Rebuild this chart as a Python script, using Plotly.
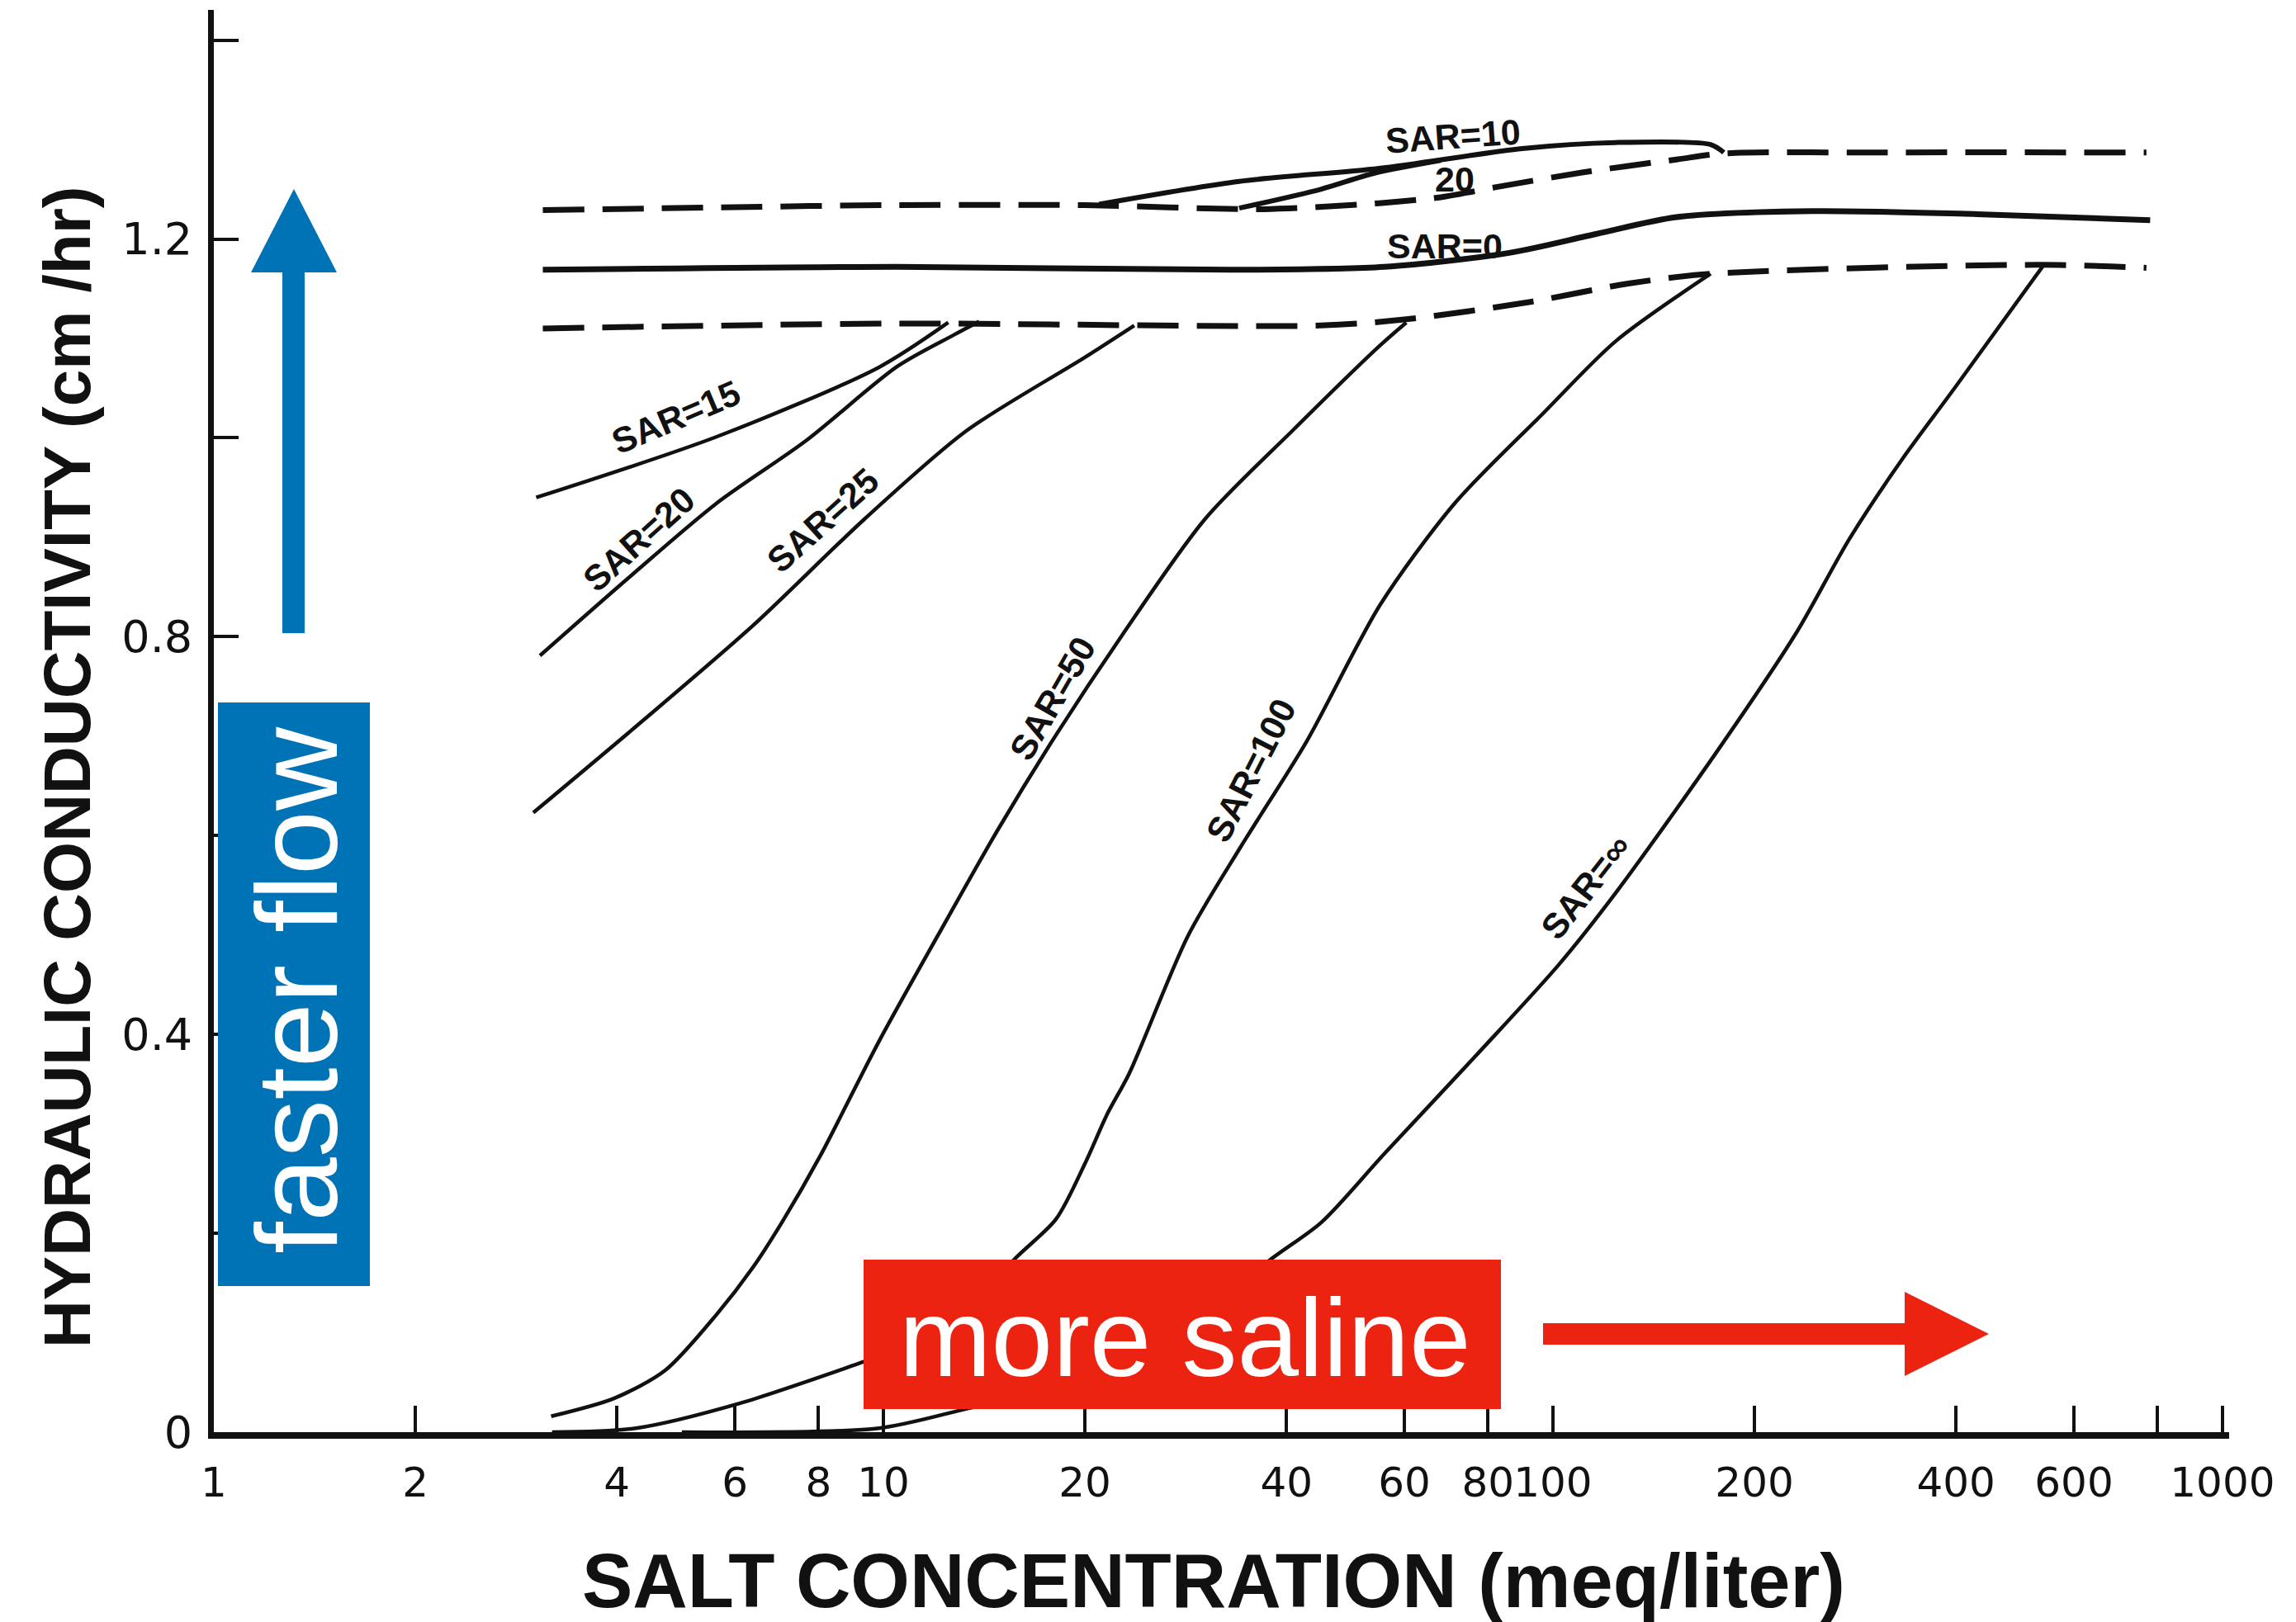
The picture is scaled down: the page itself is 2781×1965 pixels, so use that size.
import math
import plotly.graph_objects as go

# ---------------- data ----------------
X_TICKS = [1, 2, 4, 6, 8, 10, 20, 40, 60, 80, 100, 200, 400, 600, 800, 1000]
X_TICKTEXT = ["1", "2", "4", "6", "8", "10", "20", "40", "60", "80", "100", "200", "400", "600", "", "1000"]
Y_TICKS = [0, 0.2, 0.4, 0.6, 0.8, 1.0, 1.2, 1.4]
Y_TICKTEXT = ["0", "", "0.4", "", "0.8", "", "1.2", ""]

top_dash_x = [3.1, 6.0, 10.0, 20.0, 37.0, 55.0, 68.0, 82.0, 111.0, 153.0, 180.0, 300.0, 770.0]
top_dash_y = [1.229, 1.232, 1.234, 1.234, 1.230, 1.236, 1.242, 1.252, 1.267, 1.280, 1.286, 1.287, 1.287]

sar10_x = [21.0, 34.0, 55.0, 90.0, 124.0, 172.0, 180.0]
sar10_y = [1.235, 1.258, 1.271, 1.291, 1.297, 1.295, 1.287]

sar20_top_x = [34.0, 45.0, 54.0, 68.0]
sar20_top_y = [1.231, 1.250, 1.266, 1.279]

sar0_x = [3.1, 10.5, 33.0, 56.0, 86.0, 116.0, 153.0, 244.0, 430.0, 780.0]
sar0_y = [1.169, 1.172, 1.169, 1.172, 1.186, 1.205, 1.222, 1.228, 1.225, 1.219]

low_dash_x = [3.1, 10.5, 45.0, 60.0, 93.0, 129.0, 172.0, 530.0, 770.0]
low_dash_y = [1.110, 1.115, 1.113, 1.119, 1.137, 1.155, 1.165, 1.174, 1.171]

sar15_x = [3.03, 5.63, 9.85, 12.5]
sar15_y = [0.940, 1.001, 1.071, 1.116]

sar20_x = [3.07, 4.16, 5.63, 7.66, 10.5, 12.7, 13.9]
sar20_y = [0.781, 0.859, 0.934, 0.997, 1.072, 1.103, 1.117]

sar25_x = [3.0, 4.38, 6.38, 9.36, 13.3, 20.0, 23.7]
sar25_y = [0.623, 0.716, 0.811, 0.918, 1.007, 1.081, 1.113]

sar50_x = [3.19, 3.96, 4.72, 5.63, 6.39, 7.07, 8.05, 9.85, 12.05, 14.8, 18.1, 22.7, 30.2, 40.8, 55.2, 60.4]
sar50_y = [0.016, 0.034, 0.062, 0.118, 0.166, 0.212, 0.278, 0.393, 0.499, 0.605, 0.701, 0.801, 0.918, 1.007, 1.093, 1.116]

sar100_x = [3.2, 4.27, 6.10, 9.37, 12.05, 14.0, 15.6, 18.1, 20.0, 21.6, 23.3, 28.5, 34.2, 42.9, 55.2, 71.3, 96.5, 124.0, 172.0]
sar100_y = [0.0, 0.004, 0.029, 0.071, 0.097, 0.130, 0.172, 0.214, 0.270, 0.320, 0.361, 0.499, 0.589, 0.695, 0.832, 0.934, 1.024, 1.097, 1.165]

sarinf_x = [5.0, 9.85, 13.4, 18.0, 24.4, 31.4, 37.6, 45.1, 56.0, 77.8, 102.0, 124.0, 176.0, 231.0, 277.0, 332.0, 398.0, 541.0]
sarinf_y = [0.0, 0.004, 0.024, 0.044, 0.082, 0.125, 0.172, 0.211, 0.280, 0.383, 0.470, 0.542, 0.685, 0.804, 0.898, 0.978, 1.050, 1.174]

# curve labels: (text, x value, y value, angle)
label_text = ["SAR=10", "20", "SAR=0", "SAR=15", "SAR=20", "SAR=25", "SAR=50", "SAR=100", "SAR=∞"]
label_x = [71.0, 71.3, 68.9, 4.91, 4.32, 8.13, 17.9, 35.4, 112.0]
label_y = [1.303, 1.260, 1.193, 1.021, 0.898, 0.917, 0.738, 0.666, 0.549]
label_angle = [-4, 0, 0, -23, -42, -42, -60, -63, -52]

# ---------------- figure ----------------
W_FIG, H_FIG = 2781, 1965
L, R, T, B = 259, 81, 12, 230
PW = W_FIG - L - R
PH = H_FIG - T - B
BOTTOM = H_FIG - B


def px2x(px):
    return (px - L) / PW


def py2y(py):
    return (BOTTOM - py) / PH


INK = "#111111"
LBL_FONT = "Liberation Sans, Arial, sans-serif"
fig = go.Figure()

thick = [
    (top_dash_x, top_dash_y, "50px,22px", "upper dashed"),
    (sar0_x, sar0_y, "solid", "SAR=0"),
    (low_dash_x, low_dash_y, "50px,22px", "lower dashed"),
]
for xs, ys, dash, nm in thick:
    fig.add_trace(go.Scatter(x=xs, y=ys, mode="lines", name=nm,
                             line=dict(color=INK, width=7, dash=dash, shape="spline", smoothing=0.8)))

thin = [
    (sar10_x, sar10_y, "SAR=10"),
    (sar20_top_x, sar20_top_y, "SAR=20 (upper)"),
    (sar15_x, sar15_y, "SAR=15"),
    (sar20_x, sar20_y, "SAR=20"),
    (sar25_x, sar25_y, "SAR=25"),
    (sar50_x, sar50_y, "SAR=50"),
    (sar100_x, sar100_y, "SAR=100"),
    (sarinf_x, sarinf_y, "SAR=∞"),
]
for xs, ys, nm in thin:
    w = 6 if nm in ("SAR=10", "SAR=20 (upper)") else 4.5
    fig.add_trace(go.Scatter(x=xs, y=ys, mode="lines", name=nm,
                             line=dict(color=INK, width=w, shape="spline", smoothing=0.8)))

annotations = []
for t, xv, yv, ang in zip(label_text, label_x, label_y, label_angle):
    annotations.append(dict(x=math.log10(xv), y=yv, xref="x", yref="y", text=t, showarrow=False,
                            textangle=ang, font=dict(family=LBL_FONT, size=43, color=INK, weight="bold")))

# axis titles
annotations.append(dict(x=px2x(1470), y=py2y(1915), xref="paper", yref="paper",
                        text="SALT CONCENTRATION (meq/liter)", showarrow=False,
                        xanchor="center", yanchor="middle",
                        font=dict(family=LBL_FONT, size=92, color=INK, weight="bold")))
annotations.append(dict(x=px2x(81), y=py2y(930), xref="paper", yref="paper",
                        text="HYDRAULIC CONDUCTIVITY (cm /hr)", showarrow=False, textangle=-90,
                        xanchor="center", yanchor="middle",
                        font=dict(family=LBL_FONT, size=80, color=INK, weight="bold")))

# call-out texts
BLUE = "#0073B7"
RED = "#EC2310"
annotations.append(dict(x=px2x(359), y=py2y(1200), xref="paper", yref="paper",
                        text="faster flow", showarrow=False, textangle=-90,
                        xanchor="center", yanchor="middle",
                        font=dict(family=LBL_FONT, size=140, color="white")))
annotations.append(dict(x=px2x(1435), y=py2y(1620), xref="paper", yref="paper",
                        text="more saline", showarrow=False,
                        xanchor="center", yanchor="middle",
                        font=dict(family=LBL_FONT, size=134, color="white")))


def path(points):
    return "M " + " L ".join(f"{px2x(px):.5f},{py2y(py):.5f}" for px, py in points) + " Z"


shapes = [
    dict(type="rect", xref="paper", yref="paper", x0=px2x(264), x1=px2x(448), y0=py2y(1558), y1=py2y(851),
         fillcolor=BLUE, line=dict(width=0), layer="above"),
    dict(type="rect", xref="paper", yref="paper", x0=px2x(1046), x1=px2x(1818), y0=py2y(1707), y1=py2y(1526),
         fillcolor=RED, line=dict(width=0), layer="above"),
    dict(type="path", xref="paper", yref="paper", layer="above", fillcolor=BLUE, line=dict(width=0),
         path=path([(342, 767), (342, 330), (304, 330), (356, 229), (408, 330), (369, 330), (369, 767)])),
    dict(type="path", xref="paper", yref="paper", layer="above", fillcolor=RED, line=dict(width=0),
         path=path([(1869, 1603), (2307, 1603), (2307, 1565), (2409, 1616), (2307, 1667), (2307, 1629), (1869, 1629)])),
]

fig.update_layout(
    width=W_FIG, height=H_FIG,
    margin=dict(l=L, r=R, t=T, b=B, pad=0),
    paper_bgcolor="white", plot_bgcolor="white",
    showlegend=False,
    font=dict(family="DejaVu Sans", color=INK),
    annotations=annotations,
    shapes=shapes,
    xaxis=dict(type="log", range=[0, 3.01], tickvals=X_TICKS, ticktext=X_TICKTEXT, tickangle=0,
               ticks="inside", ticklen=32, tickwidth=4, tickcolor=INK,
               showline=True, linewidth=8, linecolor=INK, showgrid=False, zeroline=False,
               tickfont=dict(family="DejaVu Sans", size=50, color=INK), ticklabelstandoff=10),
    yaxis=dict(range=[0, 1.4304], tickvals=Y_TICKS, ticktext=Y_TICKTEXT,
               ticks="inside", ticklen=30, tickwidth=4, tickcolor=INK,
               showline=True, linewidth=7, linecolor=INK, showgrid=False, zeroline=False,
               tickfont=dict(family="DejaVu Sans", size=54, color=INK), ticklabelstandoff=8),
)

fig.write_html("out.html")
